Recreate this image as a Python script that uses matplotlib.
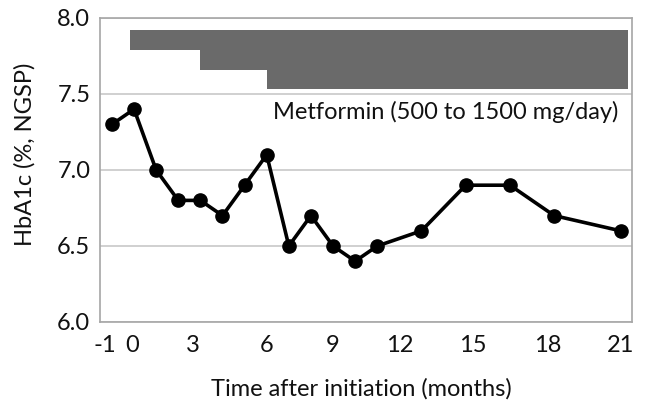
#!/usr/bin/env python3
# -*- coding: utf-8 -*-

import matplotlib
matplotlib.use("Agg")
import matplotlib.pyplot as plt

# HbA1c measurements (months after metformin initiation)
months = [-1, 0, 1, 2, 3, 4, 5, 6, 7, 8, 9, 10, 11, 13, 15, 17, 19, 22]
hba1c = [7.3, 7.4, 7.0, 6.8, 6.8, 6.7, 6.9, 7.1, 6.5, 6.7, 6.5, 6.4, 6.5,
         6.6, 6.9, 6.9, 6.7, 6.6]

# metformin dose steps: start month, end month, band bottom, band top
dose_start = [-0.2, 3.0, 6.0]
dose_end = [22.35, 22.35, 22.35]
dose_low = [7.79, 7.66, 7.53]
dose_high = [7.92, 7.79, 7.66]

# x tick labels as they sit on the original figure
tick_pos = [-1.3, -0.1, 2.65, 6.0, 9.0, 12.0, 15.3, 18.7, 22.0]
tick_lab = ["-1", "0", "3", "6", "9", "12", "15", "18", "21"]
y_ticks = [6.0, 6.5, 7.0, 7.5, 8.0]

FS = 17

plt.rcParams['font.family'] = ['Lato', 'DejaVu Sans']

fig = plt.figure(figsize=(6.45, 4.0), dpi=100)
ax = fig.add_axes([100 / 645, 78 / 400, 532 / 645, 304 / 400])

# dose bands
for s, e, lo, hi in zip(dose_start, dose_end, dose_low, dose_high):
    ax.fill_between([s, e], lo, hi, color='#6a6a6a', linewidth=0, zorder=2)

ax.text(21.9, 7.385, "Metformin (500 to 1500 mg/day)", ha='right',
        va='center', fontsize=FS, color='#111111')

# HbA1c curve
ax.plot(months, hba1c, '-o', color='black', linewidth=2.6, markersize=9.5,
        zorder=3, clip_on=False)

ax.set_xlim(-1.54, 22.52)
ax.set_ylim(6.0, 8.0)
ax.set_yticks(y_ticks)
ax.set_yticklabels([f"{v:.1f}" for v in y_ticks])
ax.set_xticks(tick_pos)
ax.set_xticklabels(tick_lab)
ax.tick_params(length=0, labelsize=FS, colors='#111111')
ax.tick_params(axis='x', pad=9)
ax.tick_params(axis='y', pad=7)

ax.yaxis.grid(True, color='#c8c8c8', linewidth=1.2)
ax.set_axisbelow(True)
for sp in ax.spines.values():
    sp.set_color('#a6a6a6')
    sp.set_linewidth(1.2)

ax.set_ylabel("HbA1c (%, NGSP)", fontsize=FS, color='#111111')
ax.yaxis.set_label_coords(-0.122, 0.553)
ax.set_xlabel("Time after initiation (months)", fontsize=FS, color='#111111')
ax.xaxis.set_label_coords(0.492, -0.186)

fig.savefig("out.png", dpi=100)
